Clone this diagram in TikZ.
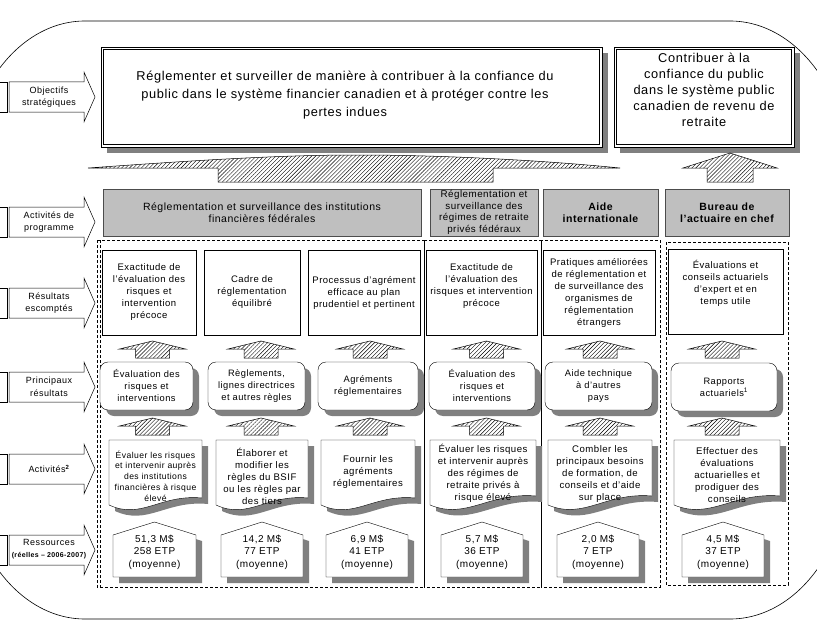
\documentclass[tikz,border=0pt]{standalone}
\usepackage{fontspec}
\setmainfont{Liberation Sans}[LetterSpace=5]
\usepackage{tikz}
\usetikzlibrary{patterns.meta}

\begin{document}
\begin{tikzpicture}[x=1pt,y=-1pt,
  shadowed/.style={preaction={fill=black!50,transform canvas={shift={(6pt,-6pt)}}}},
  objbox/.style={draw,line width=0.9pt,fill=white,shadowed,inner sep=0,minimum height=100},
  objinner/.style={draw,line width=0.5pt},
  objtxt/.style={inner sep=0,align=center,font=\fontsize{12.8}{18}\selectfont},
  progbox/.style={draw=black!70,fill=black!25,inner sep=0,minimum height=47,align=center,font=\fontsize{10.5}{12}\selectfont},
  escbox/.style={draw,fill=white,inner sep=0,minimum height=85,align=center,font=\fontsize{9.5}{12}\selectfont},
  prinbox/.style={draw,fill=white,rounded corners=8pt,shadowed,inner sep=0,minimum height=48,align=center,font=\fontsize{9.3}{12}\selectfont},
  docbox/.style={draw,fill=white,shadowed},
  housebox/.style={draw,fill=white,shadowed},
  txt/.style={inner sep=0,align=center,font=\fontsize{9.6}{12}\selectfont},
  ress/.style={inner sep=0,align=center,font=\fontsize{10}{12.5}\selectfont},
  lbl/.style={inner sep=0,align=center,font=\fontsize{9}{12.5}\selectfont},
  lblarrow/.style={draw,fill=white,line width=0.5pt},
  hatch/.style={draw,line width=0.5pt,pattern={Lines[angle=45,distance=2.8pt,line width=0.4pt]}},
  grpbox/.style={draw,dash pattern=on 3pt off 2pt,line width=0.9pt}
]
\useasboundingbox (0,0) rectangle (817,642);

% outer frame
\begin{scope}
\clip (0,0) rectangle (817,642);
\draw[line width=0.6pt] (85,21) -- (730,21) .. controls (796,21) and (850,92) .. (850,179) -- (850,461)
  .. controls (850,548) and (796,619) .. (730,619) -- (85,619) .. controls (19,619) and (-35,548) .. (-35,461)
  -- (-35,179) .. controls (-35,92) and (19,21) .. (85,21) -- cycle;
\end{scope}

% row labels
\foreach \ry in {97,222,303,387,469,550} {
  \draw[lblarrow] (-10,\ry-15) rectangle (7,\ry+15);
  \draw[lblarrow] (9,\ry-15) -- (84,\ry-15) -- (84,\ry-25) -- (95,\ry) -- (84,\ry+25) -- (84,\ry+15) -- (9,\ry+15) -- cycle;
}
\node[lbl] (lblObj) at (49,97) {Objectifs\\stratégiques};
\node[lbl] (lblProg) at (49,222) {Activités de\\programme};
\node[lbl] (lblEsc) at (49,303) {Résultats\\escomptés};
\node[lbl] (lblPrin) at (49,387) {Principaux\\résultats};
\node[lbl] (lblAct) at (49,469) {Activités\textsuperscript{\bfseries 2}};
\node[lbl] (lblRess) at (49,549) {Ressources\\{\fontsize{7}{8}\selectfont\bfseries (réelles – 2006-2007)}};

% strategic outcomes
\node[objbox,minimum width=501] (objFin) at (351.5,97) {};
\draw[objinner] ([shift={(3,3)}]objFin.north west) rectangle ([shift={(-3,-3)}]objFin.south east);
\node[objtxt] (objFinTxt) at (345,95) {Réglementer et surveiller de manière à contribuer à la confiance du\\public dans le système financier canadien et à protéger contre les\\pertes indues};
\node[objbox,minimum width=180] (objRet) at (704,97) {};
\draw[objinner] ([shift={(3,3)}]objRet.north west) rectangle ([shift={(-3,-3)}]objRet.south east);
\node[objtxt,font=\fontsize{12.8}{16}\selectfont] (objRetTxt) at (704,90) {Contribuer à la\\confiance du public\\dans le système public\\canadien de revenu de\\retraite};

\draw[hatch] (88,168) .. controls (200,160) and (280,155) .. (357,155) .. controls (440,155) and (540,160) .. (620,168)
  -- (493,168) -- (493,182) -- (218,182) -- (218,168) -- cycle;
\draw[hatch] (683,168) -- (730,153) -- (777,168) -- (753,168) -- (753,182) -- (707,182) -- (707,168) -- cycle;

% program activities
\node[progbox,minimum width=318] (progFin) at (262,212.5) {Réglementation et surveillance des institutions\\financières fédérales};
\node[progbox,minimum width=108,font=\fontsize{9.8}{11.5}\selectfont] (progRet) at (484,212.5) {Réglementation et\\surveillance des\\régimes de retraite\\privés fédéraux};
\node[progbox,minimum width=115,font=\fontsize{10.5}{12}\selectfont\bfseries] (progAide) at (600.5,212.5) {Aide\\internationale};
\node[progbox,minimum width=124,font=\fontsize{10.5}{12}\selectfont\bfseries] (progBac) at (727,212.5) {Bureau de\\l'actuaire en chef};

% dashed groups
\draw[grpbox] (97,240) rectangle (424,587);
\draw[grpbox] (100,240) -- (100,587);
\draw[grpbox] (424,240) rectangle (541,587);
\draw[grpbox] (541,240) rectangle (660,587);
\draw[grpbox] (666,242) rectangle (788,585);

% expected results
\node[escbox,minimum width=94] (escA) at (149,292.5) {Exactitude de\\l'évaluation des\\risques et\\intervention\\précoce};
\node[escbox,minimum width=96] (escB) at (252,292.5) {Cadre de\\réglementation\\équilibré};
\node[escbox,minimum width=112] (escC) at (364,292.5) {Processus d'agrément\\efficace au plan\\prudentiel et pertinent};
\node[escbox,minimum width=111] (escD) at (481.5,292.5) {};
\node[txt,font=\fontsize{9.5}{12}\selectfont] (escDTxt) at (481.5,286) {Exactitude de\\l'évaluation des\\risques et intervention\\précoce};
\node[escbox,minimum width=112] (escE) at (599,292.5) {Pratiques améliorées\\de réglementation et\\de surveillance des\\organismes de\\réglementation\\étrangers};
\node[escbox,minimum width=115] (escF) at (725.5,292) {};
\node[txt,font=\fontsize{9.5}{12}\selectfont] (escFTxt) at (725.5,283) {Évaluations et\\conseils actuariels\\d'expert et en\\temps utile};

% hatched arrows
\foreach \cx in {152.5,261,370,486.5,600,722} {
  \foreach \ty in {341,418} {
    \draw[hatch] (\cx-33,\ty+8) -- (\cx,\ty) -- (\cx+33,\ty+8) -- (\cx+17,\ty+8) -- (\cx+17,\ty+17) -- (\cx-17,\ty+17) -- (\cx-17,\ty+8) -- cycle;
  }
}

% main outputs
\node[prinbox,minimum width=93] (prinA) at (146.5,386) {Évaluation des\\risques et\\interventions};
\node[prinbox,minimum width=97] (prinB) at (256.5,386) {Règlements,\\lignes directrices\\et autres règles};
\node[prinbox,minimum width=100] (prinC) at (368,386) {Agréments\\réglementaires};
\node[prinbox,minimum width=106] (prinD) at (482,386) {Évaluation des\\risques et\\interventions};
\node[prinbox,minimum width=107] (prinE) at (598.5,386) {Aide technique\\à d'autres\\pays};
\node[prinbox,minimum width=106] (prinF) at (724,387) {Rapports\\actuariels\textsuperscript{1}};

% activities
\draw[docbox] (109,440) -- (202,440) -- (202,498) .. controls (160.2,494) and (141.6,520) .. (109,505) -- cycle;
\draw[docbox] (216,440) -- (308,440) -- (308,498) .. controls (266.6,494) and (248.2,520) .. (216,505) -- cycle;
\draw[docbox] (321,440) -- (415,440) -- (415,498) .. controls (372.7,494) and (353.9,520) .. (321,505) -- cycle;
\draw[docbox] (430,440) -- (536,440) -- (536,496) .. controls (488.3,492) and (467.1,520) .. (430,505) -- cycle;
\draw[docbox] (548,440) -- (652,440) -- (652,496) .. controls (605.2,492) and (584.4,520) .. (548,505) -- cycle;
\draw[docbox] (674,440) -- (780,440) -- (780,496) .. controls (732.3,492) and (711.1,520) .. (674,505) -- cycle;
\node[txt,font=\fontsize{8.6}{10.8}\selectfont] (actA) at (155.5,476) {Évaluer les risques\\et intervenir auprès\\des institutions\\financières à risque\\élevé};
\node[txt] (actB) at (262,476) {Élaborer et\\modifier les\\règles du BSIF\\ou les règles par\\des tiers};
\node[txt] (actC) at (368,472) {Fournir les\\agréments\\réglementaires};
\node[txt] (actD) at (483,473) {Évaluer les risques\\et intervenir auprès\\des régimes de\\retraite privés à\\risque élevé};
\node[txt] (actE) at (600,474) {Combler les\\principaux besoins\\de formation, de\\conseils et d'aide\\sur place};
\node[txt] (actF) at (727,475) {Effectuer des\\évaluations\\actuarielles et\\prodiguer des\\conseils};

% resources
\draw[housebox] (113,577) -- (113,535) -- (154.5,522) -- (196,535) -- (196,577) -- cycle;
\draw[housebox] (221,577) -- (221,535) -- (262,522) -- (303,535) -- (303,577) -- cycle;
\draw[housebox] (326,577) -- (326,535) -- (367,522) -- (408,535) -- (408,577) -- cycle;
\draw[housebox] (441,577) -- (441,535) -- (482,522) -- (523,535) -- (523,577) -- cycle;
\draw[housebox] (557,577) -- (557,535) -- (598,522) -- (639,535) -- (639,577) -- cycle;
\draw[housebox] (682,577) -- (682,535) -- (723,522) -- (764,535) -- (764,577) -- cycle;
\node[ress] (ressA) at (154.5,552) {51,3 M\$\\258 ETP\\(moyenne)};
\node[ress] (ressB) at (262,552) {14,2 M\$\\77 ETP\\(moyenne)};
\node[ress] (ressC) at (367,552) {6,9 M\$\\41 ETP\\(moyenne)};
\node[ress] (ressD) at (482,552) {5,7 M\$\\36 ETP\\(moyenne)};
\node[ress] (ressE) at (598,552) {2,0 M\$\\7 ETP\\(moyenne)};
\node[ress] (ressF) at (723,552) {4,5 M\$\\37 ETP\\(moyenne)};

\end{tikzpicture}
\end{document}
